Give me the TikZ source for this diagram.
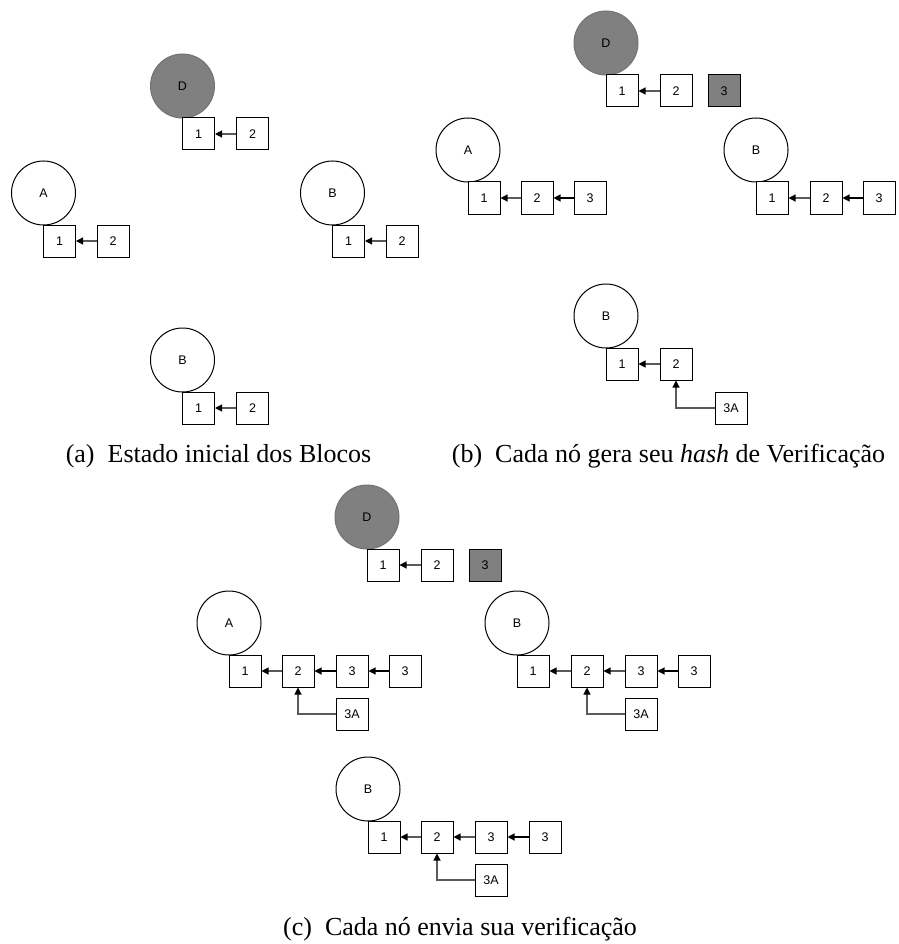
\documentclass[tikz,border=0pt]{standalone}
\usepackage{fontspec}
\setmainfont{Liberation Serif}
\setsansfont{Liberation Sans}
\usetikzlibrary{arrows.meta}
\definecolor{dgray}{RGB}{128,128,128}
\definecolor{lgray}{RGB}{90,90,90}
\begin{document}
\begin{tikzpicture}[x=1pt,y=-1pt,
  blk/.style={draw, line width=1pt, minimum size=32pt, inner sep=0pt, fill=white, font=\sffamily\fontsize{12.5}{15}\selectfont},
  dark/.style={blk, fill=dgray},
  circ/.style={circle, draw, line width=1pt, minimum size=64pt, inner sep=0pt, font=\sffamily\fontsize{12.5}{15}\selectfont},
  dcirc/.style={circ, fill=dgray, draw=dgray!90!black},
  arr/.style={draw=lgray, line width=1.1pt, -{Triangle[length=7pt,width=7pt,color=black]}},
  arrk/.style={arr, draw=black},
  captxt/.style={font=\fontsize{26}{30}\selectfont, inner sep=0pt, anchor=base}]
\useasboundingbox (0,0) rectangle (898,944);

% ---------- (a) ----------
\node[dcirc] (aD) at (182.5,86) {D};
\node[blk] (aD1) at (198.5,134) {1};
\node[blk] (aD2) at (252.5,134) {2};
\draw[arr] (aD2) -- (aD1);

\node[circ] (aA) at (43.5,193) {A};
\node[blk] (aA1) at (59.5,241) {1};
\node[blk] (aA2) at (113,241) {2};
\draw[arr] (aA2) -- (aA1);

\node[circ] (aB) at (332.5,193) {B};
\node[blk] (aB1) at (348.5,241) {1};
\node[blk] (aB2) at (402,241) {2};
\draw[arr] (aB2) -- (aB1);

\node[circ] (aC) at (182.5,360) {B};
\node[blk] (aC1) at (198.5,408) {1};
\node[blk] (aC2) at (252.5,408) {2};
\draw[arr] (aC2) -- (aC1);

\node[captxt] (capa) at (218.5,462) {(a)\ \ Estado inicial dos Blocos};

% ---------- (b) ----------
\node[dcirc] (bD) at (606,43) {D};
\node[blk] (bD1) at (622,91) {1};
\node[blk] (bD2) at (676,91) {2};
\node[dark] (bD3) at (724,91) {3};
\draw[arr] (bD2) -- (bD1);

\node[circ] (bA) at (468,150) {A};
\node[blk] (bA1) at (484,198) {1};
\node[blk] (bA2) at (537,198) {2};
\node[blk] (bA3) at (590,198) {3};
\draw[arr] (bA2) -- (bA1);
\draw[arrk] (bA3) -- (bA2);

\node[circ] (bB) at (756,150) {B};
\node[blk] (bB1) at (772,198) {1};
\node[blk] (bB2) at (826,198) {2};
\node[blk] (bB3) at (879,198) {3};
\draw[arr] (bB2) -- (bB1);
\draw[arrk] (bB3) -- (bB2);

\node[circ] (bC) at (606,316) {B};
\node[blk] (bC1) at (622,364) {1};
\node[blk] (bC2) at (676,364) {2};
\node[blk] (bC3) at (731,408) {3A};
\draw[arr] (bC2) -- (bC1);
\draw[arr] (bC3.west) -| (bC2.south);

\node[captxt] (capb) at (668.5,462) {(b)\ \ Cada nó gera seu \textit{hash} de Verificação};

% ---------- (c) ----------
\node[dcirc] (cD) at (367,517) {D};
\node[blk] (cD1) at (383,565) {1};
\node[blk] (cD2) at (437,565) {2};
\node[dark] (cD3) at (485,565) {3};
\draw[arr] (cD2) -- (cD1);

\node[circ] (cA) at (229,623) {A};
\node[blk] (cA1) at (245,671) {1};
\node[blk] (cA2) at (298,671) {2};
\node[blk] (cA3) at (352,671) {3};
\node[blk] (cA4) at (405,671) {3};
\node[blk] (cA5) at (352,714) {3A};
\draw[arr] (cA2) -- (cA1);
\draw[arrk] (cA3) -- (cA2);
\draw[arrk] (cA4) -- (cA3);
\draw[arr] (cA5.west) -| (cA2.south);

\node[circ] (cB) at (517,623) {B};
\node[blk] (cB1) at (533,671) {1};
\node[blk] (cB2) at (587,671) {2};
\node[blk] (cB3) at (641,671) {3};
\node[blk] (cB4) at (694,671) {3};
\node[blk] (cB5) at (641,714) {3A};
\draw[arr] (cB2) -- (cB1);
\draw[arr] (cB3) -- (cB2);
\draw[arrk] (cB4) -- (cB3);
\draw[arr] (cB5.west) -| (cB2.south);

\node[circ] (cC) at (368,789) {B};
\node[blk] (cC1) at (384,837) {1};
\node[blk] (cC2) at (437,837) {2};
\node[blk] (cC3) at (491,837) {3};
\node[blk] (cC4) at (545,837) {3};
\node[blk] (cC5) at (491,880) {3A};
\draw[arr] (cC2) -- (cC1);
\draw[arr] (cC3) -- (cC2);
\draw[arrk] (cC4) -- (cC3);
\draw[arr] (cC5.west) -| (cC2.south);

\node[captxt] (capc) at (460,935) {(c)\ \ Cada nó envia sua verificação};
\end{tikzpicture}
\end{document}
